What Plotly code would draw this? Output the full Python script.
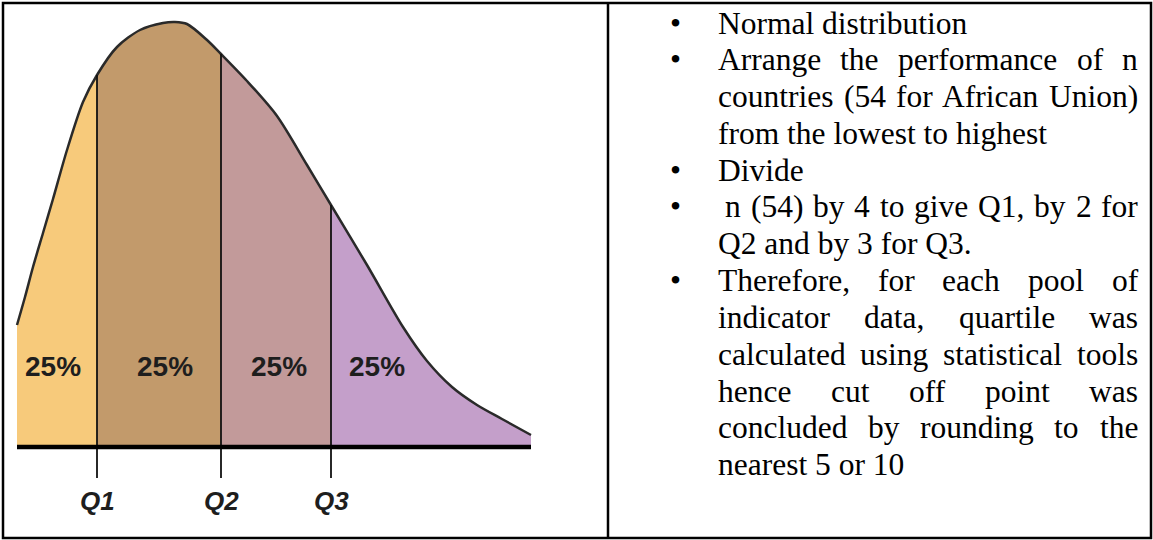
import plotly.graph_objects as go

# ---------------- data ----------------
# skewed distribution curve (score vs. frequency, arbitrary units)
curve_x = [0, 8, 16, 26, 36, 50, 66, 80, 100, 123, 146, 158, 170, 190, 204,
           230, 260, 290, 314, 350, 386, 410, 435, 460, 485, 514]
curve_y = [122, 150, 180, 214, 248, 297, 345, 372, 400, 417, 424, 425, 423, 407, 393,
           366, 331, 282, 242, 182, 120, 86, 60, 42, 28, 12]
# indices of quartile cut points inside the curve arrays
q_index = [7, 14, 18]
q_labels = ["Q1", "Q2", "Q3"]
pct_labels = ["25%", "25%", "25%", "25%"]
pct_x = [36, 148, 262, 360]
fill_colors = ["#F7CA7B", "#C29A6B", "#C29A9A", "#C49FCA"]

text_lines = [
    "Normal distribution",
    "Arrange the performance of n",
    "countries (54 for African Union)",
    "from the lowest to highest",
    "Divide",
    " n (54) by 4 to give Q1, by 2 for",
    "Q2 and by 3 for Q3.",
    "Therefore, for each pool of",
    "indicator data, quartile was",
    "calculated using statistical tools",
    "hence cut off point was",
    "concluded by rounding to the",
    "nearest 5 or 10",
]
bullets = [1, 1, 0, 0, 1, 1, 0, 1, 0, 0, 0, 0, 0]
justified = [0, 1, 1, 0, 0, 1, 0, 1, 1, 1, 1, 1, 0]

# ---------------- figure ----------------
W, H = 1153, 540
fig = go.Figure()

SM = 0.8
# quartile segments
bounds = [0] + q_index + [len(curve_x) - 1]
for k in range(4):
    a, b = bounds[k], bounds[k + 1]
    fig.add_trace(go.Scatter(
        x=curve_x[a:b + 1], y=curve_y[a:b + 1], mode="lines",
        line=dict(width=0, shape="spline", smoothing=SM),
        fill="tozeroy", fillcolor=fill_colors[k], hoverinfo="skip", showlegend=False))

# curve outline
fig.add_trace(go.Scatter(x=curve_x, y=curve_y, mode="lines",
                         line=dict(color="#2a2a2a", width=2.5, shape="spline", smoothing=SM),
                         hoverinfo="skip", showlegend=False))

# quartile lines
for i in q_index:
    fig.add_trace(go.Scatter(x=[curve_x[i], curve_x[i]], y=[-31, curve_y[i]], mode="lines",
                             line=dict(color="#111111", width=1.8),
                             hoverinfo="skip", showlegend=False))

# baseline
fig.add_trace(go.Scatter(x=[curve_x[0], curve_x[-1]], y=[0, 0], mode="lines",
                         line=dict(color="black", width=4.5),
                         hoverinfo="skip", showlegend=False))

annotations = []
for lab, xx in zip(pct_labels, pct_x):
    annotations.append(dict(x=xx, y=81, xref="x", yref="y", text="<b>%s</b>" % lab,
                            showarrow=False, font=dict(family="Liberation Sans", size=28, color="#1e1e1e")))
for lab, i in zip(q_labels, q_index):
    annotations.append(dict(x=curve_x[i], y=-54, xref="x", yref="y", text="<b><i>%s</i></b>" % lab,
                            showarrow=False, font=dict(family="Liberation Sans", size=26, color="#1e1e1e")))

# ---------------- text column ----------------
tw = {' ': 250, 'a': 444, 'b': 500, 'c': 444, 'd': 500, 'e': 444, 'f': 333, 'g': 500, 'h': 500,
      'i': 278, 'j': 278, 'k': 500, 'l': 278, 'm': 778, 'n': 500, 'o': 500, 'p': 500, 'q': 500,
      'r': 333, 's': 389, 't': 278, 'u': 500, 'v': 500, 'w': 722, 'x': 500, 'y': 500, 'z': 444,
      'A': 722, 'D': 722, 'N': 722, 'Q': 722, 'T': 611, 'U': 722, '(': 333, ')': 333,
      ',': 250, '.': 250}
FS = 31.5


def wwidth(s):
    return sum(tw.get(c, 500) for c in s) / 1000.0 * FS


x_left, x_right, x_bullet = 717, 1137, 675
y0, dy = 23, 36.8


def add_text(txt, px, py, anchor="left"):
    annotations.append(dict(x=px / W, y=1 - py / H, xref="paper", yref="paper", text=txt,
                            xanchor=anchor, yanchor="middle", showarrow=False, borderpad=0,
                            font=dict(family="Liberation Serif", size=FS, color="black")))


for n, line in enumerate(text_lines):
    py = y0 + n * dy
    if bullets[n]:
        add_text("•", x_bullet, py, "center")
    start = x_left + (7 if line.startswith(" ") else 0)
    if justified[n]:
        words = line.split()
        widths = [wwidth(w) for w in words]
        gap = (x_right - start - sum(widths)) / (len(words) - 1)
        cx = start
        for w, wd in zip(words, widths):
            add_text(w, cx, py)
            cx += wd + gap
    else:
        add_text(line.strip(), start, py)

# table borders
shapes = [
    dict(type="rect", xref="paper", yref="paper", x0=3 / W, x1=1151 / W, y0=1 - 538 / H, y1=1 - 3 / H,
         line=dict(color="black", width=2.5)),
    dict(type="line", xref="paper", yref="paper", x0=608 / W, x1=608 / W, y0=1 - 538 / H, y1=1 - 3 / H,
         line=dict(color="black", width=2.5)),
]

fig.update_layout(
    width=W, height=H, margin=dict(l=0, r=0, t=0, b=0),
    paper_bgcolor="white", plot_bgcolor="white",
    xaxis=dict(range=[-17, W - 17], visible=False, fixedrange=True),
    yaxis=dict(range=[-(H - 447), 447], visible=False, fixedrange=True),
    annotations=annotations, shapes=shapes, showlegend=False,
)

fig.write_html("out.html", config={"displayModeBar": False},
               post_script="document.body.style.margin='0';document.body.style.overflow='hidden';")
